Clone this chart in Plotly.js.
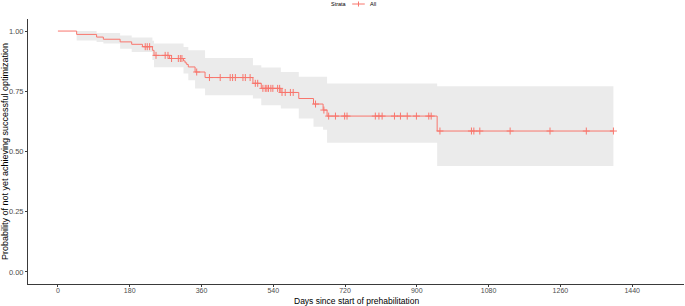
<!DOCTYPE html>
<html>
<head>
<meta charset="utf-8">
<script src="https://cdn.plot.ly/plotly-3.0.1.min.js"></script>
<style>
  html, body { margin: 0; padding: 0; background: #ffffff; }
  #chart { width: 685px; height: 306px; }
</style>
</head>
<body>
<div id="chart"></div>
<script>
// Kaplan-Meier estimate: days at which the curve steps down and the level after each step
const eventDays = [0, 47, 97, 114, 156, 185, 212, 237, 241, 280, 315, 319, 323, 327, 344, 369, 489, 510, 559, 604, 641, 665, 675, 951];
const survival  = [1.000, 0.986, 0.975, 0.966, 0.955, 0.945, 0.935, 0.920, 0.899, 0.886, 0.876, 0.868, 0.861, 0.851, 0.830, 0.807, 0.783, 0.762, 0.745, 0.720, 0.697, 0.672, 0.647, 0.585];
// 95% confidence band after each step
const upperCI   = [1.000, 1.000, 0.992, 0.992, 0.982, 0.973, 0.973, 0.960, 0.948, 0.948, 0.934, 0.934, 0.934, 0.920, 0.920, 0.888, 0.858, 0.849, 0.830, 0.810, 0.810, 0.810, 0.782, 0.771];
const lowerCI   = [1.000, 0.961, 0.955, 0.948, 0.927, 0.913, 0.913, 0.880, 0.850, 0.850, 0.824, 0.824, 0.824, 0.796, 0.762, 0.734, 0.720, 0.692, 0.679, 0.637, 0.603, 0.590, 0.536, 0.440];
// Censored observations (days)
const censorDays = [219, 224, 230, 246, 269, 276, 285, 302, 307, 311, 348, 380, 407, 432, 438, 445, 464, 470, 482, 495, 501,
                    514, 520, 524, 528, 534, 539, 551, 556, 562, 570, 583, 590, 646, 667, 679, 696, 719, 725, 796, 805, 813,
                    844, 859, 876, 899, 930, 936, 958, 1037, 1043, 1058, 1134, 1234, 1325, 1393];
const xTicks = [0, 180, 360, 540, 720, 900, 1080, 1260, 1440];
const yTicks = [0, 0.25, 0.5, 0.75, 1];

const legendTitle = 'Strata';
const strataName = 'All';
const xTitle = 'Days since start of prehabilitation';
const yTitle = 'Probability of not yet achieving successful optimization';
const lineColor = '#F8766D';

// Curves extend to the last follow-up time
const lastDay = censorDays[censorDays.length - 1];
const xs = eventDays.concat([lastDay]);
const withLast = arr => arr.concat([arr[arr.length - 1]]);

// Survival level in effect at a given day (step function lookup)
function levelAt(day) {
  let v = survival[0];
  for (let i = 0; i < eventDays.length; i++) {
    if (eventDays[i] <= day) v = survival[i];
  }
  return v;
}

const font = '"Liberation Sans", Arial, sans-serif';

const traces = [
  {
    x: xs, y: withLast(lowerCI), type: 'scatter', mode: 'lines',
    line: { shape: 'hv', width: 0, color: 'rgba(0,0,0,0)' },
    showlegend: false, hoverinfo: 'skip'
  },
  {
    x: xs, y: withLast(upperCI), type: 'scatter', mode: 'lines',
    line: { shape: 'hv', width: 0, color: 'rgba(0,0,0,0)' },
    fill: 'tonexty', fillcolor: '#EBEBEB',
    showlegend: false, hoverinfo: 'skip'
  },
  {
    x: xs, y: withLast(survival), type: 'scatter', mode: 'lines',
    line: { shape: 'hv', width: 1, color: lineColor },
    showlegend: false
  },
  {
    x: censorDays, y: censorDays.map(levelAt), type: 'scatter', mode: 'markers',
    marker: { symbol: 'cross-thin', size: 5, line: { width: 1, color: lineColor }, color: lineColor },
    showlegend: false
  }
];

// Legend row above the panel: "Strata  -+-  All"
const legY = 1.0566;
const layout = {
  width: 685, height: 306,
  margin: { l: 28, r: 1, t: 19, b: 22 },
  paper_bgcolor: '#ffffff', plot_bgcolor: '#ffffff',
  font: { family: font, size: 7.5, color: '#4D4D4D' },
  showlegend: false,
  annotations: [
    { text: legendTitle, xref: 'paper', yref: 'paper', x: 0.4893, y: legY, xanchor: 'right', yanchor: 'middle',
      showarrow: false, font: { family: font, size: 5.5, color: '#000000' } },
    { text: strataName, xref: 'paper', yref: 'paper', x: 0.519, y: legY, xanchor: 'left', yanchor: 'middle',
      showarrow: false, font: { family: font, size: 5.5, color: '#000000' } },
    // x-axis title, centred under the panel
    { text: xTitle, xref: 'paper', yref: 'paper', x: 0.5, y: -0.0642, xanchor: 'center', yanchor: 'middle',
      showarrow: false, borderpad: 0, font: { family: font, size: 8.5, color: '#000000' } }
  ],
  shapes: [
    { type: 'line', xref: 'paper', yref: 'paper', x0: 0.4942, x1: 0.5134, y0: legY, y1: legY,
      line: { color: lineColor, width: 1 } },
    { type: 'line', xref: 'paper', yref: 'paper', x0: 0.5038, x1: 0.5038, y0: 1.047, y1: 1.066,
      line: { color: lineColor, width: 1 } }
  ],
  xaxis: {
    range: [-75, 1570],
    tickmode: 'array', tickvals: xTicks, ticktext: xTicks.map(String),
    showgrid: false, zeroline: false,
    showline: true, linecolor: '#3a3a3a', linewidth: 1,
    ticks: 'outside', ticklen: 2, tickcolor: '#3a3a3a', tickwidth: 1,
    ticklabelstandoff: -2,
    tickfont: { family: font, size: 7, color: '#4D4D4D' }
  },
  yaxis: {
    range: [-0.05, 1.05],
    tickmode: 'array', tickvals: yTicks, ticktext: yTicks.map(v => v.toFixed(2)),
    showgrid: false, zeroline: false,
    showline: true, linecolor: '#3a3a3a', linewidth: 1,
    ticks: 'outside', ticklen: 2, tickcolor: '#3a3a3a', tickwidth: 1,
    tickfont: { family: font, size: 7.5, color: '#4D4D4D' },
    title: { text: yTitle, font: { family: font, size: 9, color: '#000000' }, standoff: 2 }
  }
};

Plotly.newPlot('chart', traces, layout, { displayModeBar: false, staticPlot: true });
</script>
</body>
</html>
